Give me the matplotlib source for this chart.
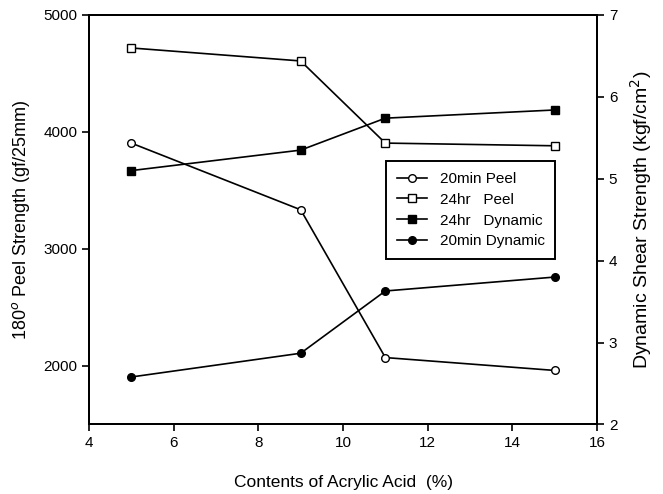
import matplotlib
matplotlib.use("Agg")
import matplotlib.pyplot as plt
from matplotlib.ticker import MultipleLocator

plt.rcParams["font.family"] = ["Liberation Sans", "DejaVu Sans"]

# acrylic acid content (%)
acid = [5, 9, 11, 15]

# 180 deg peel strength (gf/25mm), left axis
peel_20min = [3905, 3335, 2072, 1962]
peel_24hr = [4718, 4607, 3905, 3882]

# dynamic shear strength (kgf/cm2), right axis
dyn_24hr = [5.10, 5.35, 5.74, 5.84]
dyn_20min = [2.58, 2.87, 3.63, 3.80]

fig = plt.figure(figsize=(6.63, 4.94), dpi=100)
ax = fig.add_axes([0.1342, 0.1407, 0.7663, 0.8290])
ax2 = ax.twinx()

lw = 1.2
h1, = ax.plot(acid, peel_20min, "-o", color="black", lw=lw, ms=5.5,
              mfc="white", mec="black", mew=1.0, label="20min Peel")
h2, = ax.plot(acid, peel_24hr, "-s", color="black", lw=lw, ms=6,
              mfc="white", mec="black", mew=1.0, label="24hr   Peel")
h3, = ax2.plot(acid, dyn_24hr, "-s", color="black", lw=lw, ms=6,
               mfc="black", mec="black", label="24hr   Dynamic")
h4, = ax2.plot(acid, dyn_20min, "-o", color="black", lw=lw, ms=5.5,
               mfc="black", mec="black", label="20min Dynamic")

ax.set_xlim(4, 16)
ax.set_ylim(1500, 5000)
ax2.set_ylim(2, 7)
ax.xaxis.set_major_locator(MultipleLocator(2))
ax.set_yticks([2000, 3000, 4000, 5000])
ax2.set_yticks([2, 3, 4, 5, 6, 7])

for a in (ax, ax2):
    for s in a.spines.values():
        s.set_linewidth(1.4)
    a.tick_params(direction="out", length=5, width=1.2, labelsize=11)

ax.set_xlabel("Contents of Acrylic Acid  (%)", fontsize=12.5, labelpad=18)
ax.set_ylabel("180$^o$ Peel Strength (gf/25mm)", fontsize=13, labelpad=8)
ax2.set_ylabel("Dynamic Shear Strength (kgf/cm$^2$)", fontsize=14, labelpad=8)

leg = ax2.legend(handles=[h1, h2, h3, h4], loc="upper left",
                 bbox_to_anchor=(0.585, 0.643), borderaxespad=0,
                 fontsize=11, fancybox=False, framealpha=1,
                 handlelength=2.0, labelspacing=0.45, borderpad=0.7)
leg.get_frame().set_edgecolor("black")
leg.get_frame().set_linewidth(1.4)

fig.savefig("out.png", dpi=100)
